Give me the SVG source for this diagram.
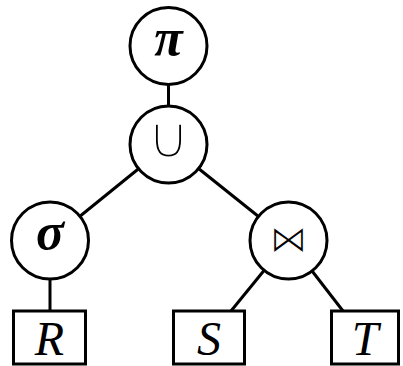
<svg xmlns="http://www.w3.org/2000/svg" width="403" height="366" viewBox="0 0 403 366">
<style>
.n{fill:#fff;stroke:#000;stroke-width:3}
.e{stroke:#000;stroke-width:3;fill:none}
.op{font-family:"Liberation Serif",serif;font-weight:bold;font-style:italic;font-size:52px;text-anchor:middle}
.sym{font-family:"DejaVu Sans",sans-serif;text-anchor:middle}
.rel{font-family:"Liberation Serif",serif;font-style:italic;font-size:48px;text-anchor:middle}
</style>
<rect width="403" height="366" fill="#fff"/>
<g id="connectors">
<line class="e" x1="168.5" y1="46" x2="168.5" y2="144.5"/>
<line class="e" x1="168.5" y1="144.5" x2="50" y2="240.5"/>
<line class="e" x1="168.5" y1="144.5" x2="288.5" y2="240.5"/>
<line class="e" x1="50" y1="240.5" x2="50" y2="311"/>
<line class="e" x1="288.5" y1="240.5" x2="231" y2="311"/>
<line class="e" x1="288.5" y1="240.5" x2="343" y2="311"/>
</g>
<g id="pi"><circle class="n" cx="168.5" cy="46" r="38.5"/><text class="op" x="168.5" y="55">π</text></g>
<g id="union"><circle class="n" cx="168.5" cy="144.5" r="38.5"/><text class="sym" x="168.5" y="158" font-size="60" stroke="#fff" stroke-width="3.2">∪</text></g>
<g id="sigma"><circle class="n" cx="50" cy="240.5" r="38.5"/><text class="op" x="50" y="249">σ</text></g>
<g id="join"><circle class="n" cx="288.5" cy="240.5" r="38.5"/><text class="sym" x="288.5" y="251.5" font-size="38" stroke="#fff" stroke-width="1.2">⋈</text></g>
<g id="R"><rect class="n" x="13.5" y="311" width="72" height="53"/><text class="rel" x="49.5" y="355">R</text></g>
<g id="S"><rect class="n" x="173.5" y="311" width="71" height="53"/><text class="rel" x="209" y="355">S</text></g>
<g id="T"><rect class="n" x="331.5" y="311" width="67" height="53"/><text class="rel" x="365" y="355">T</text></g>
</svg>
